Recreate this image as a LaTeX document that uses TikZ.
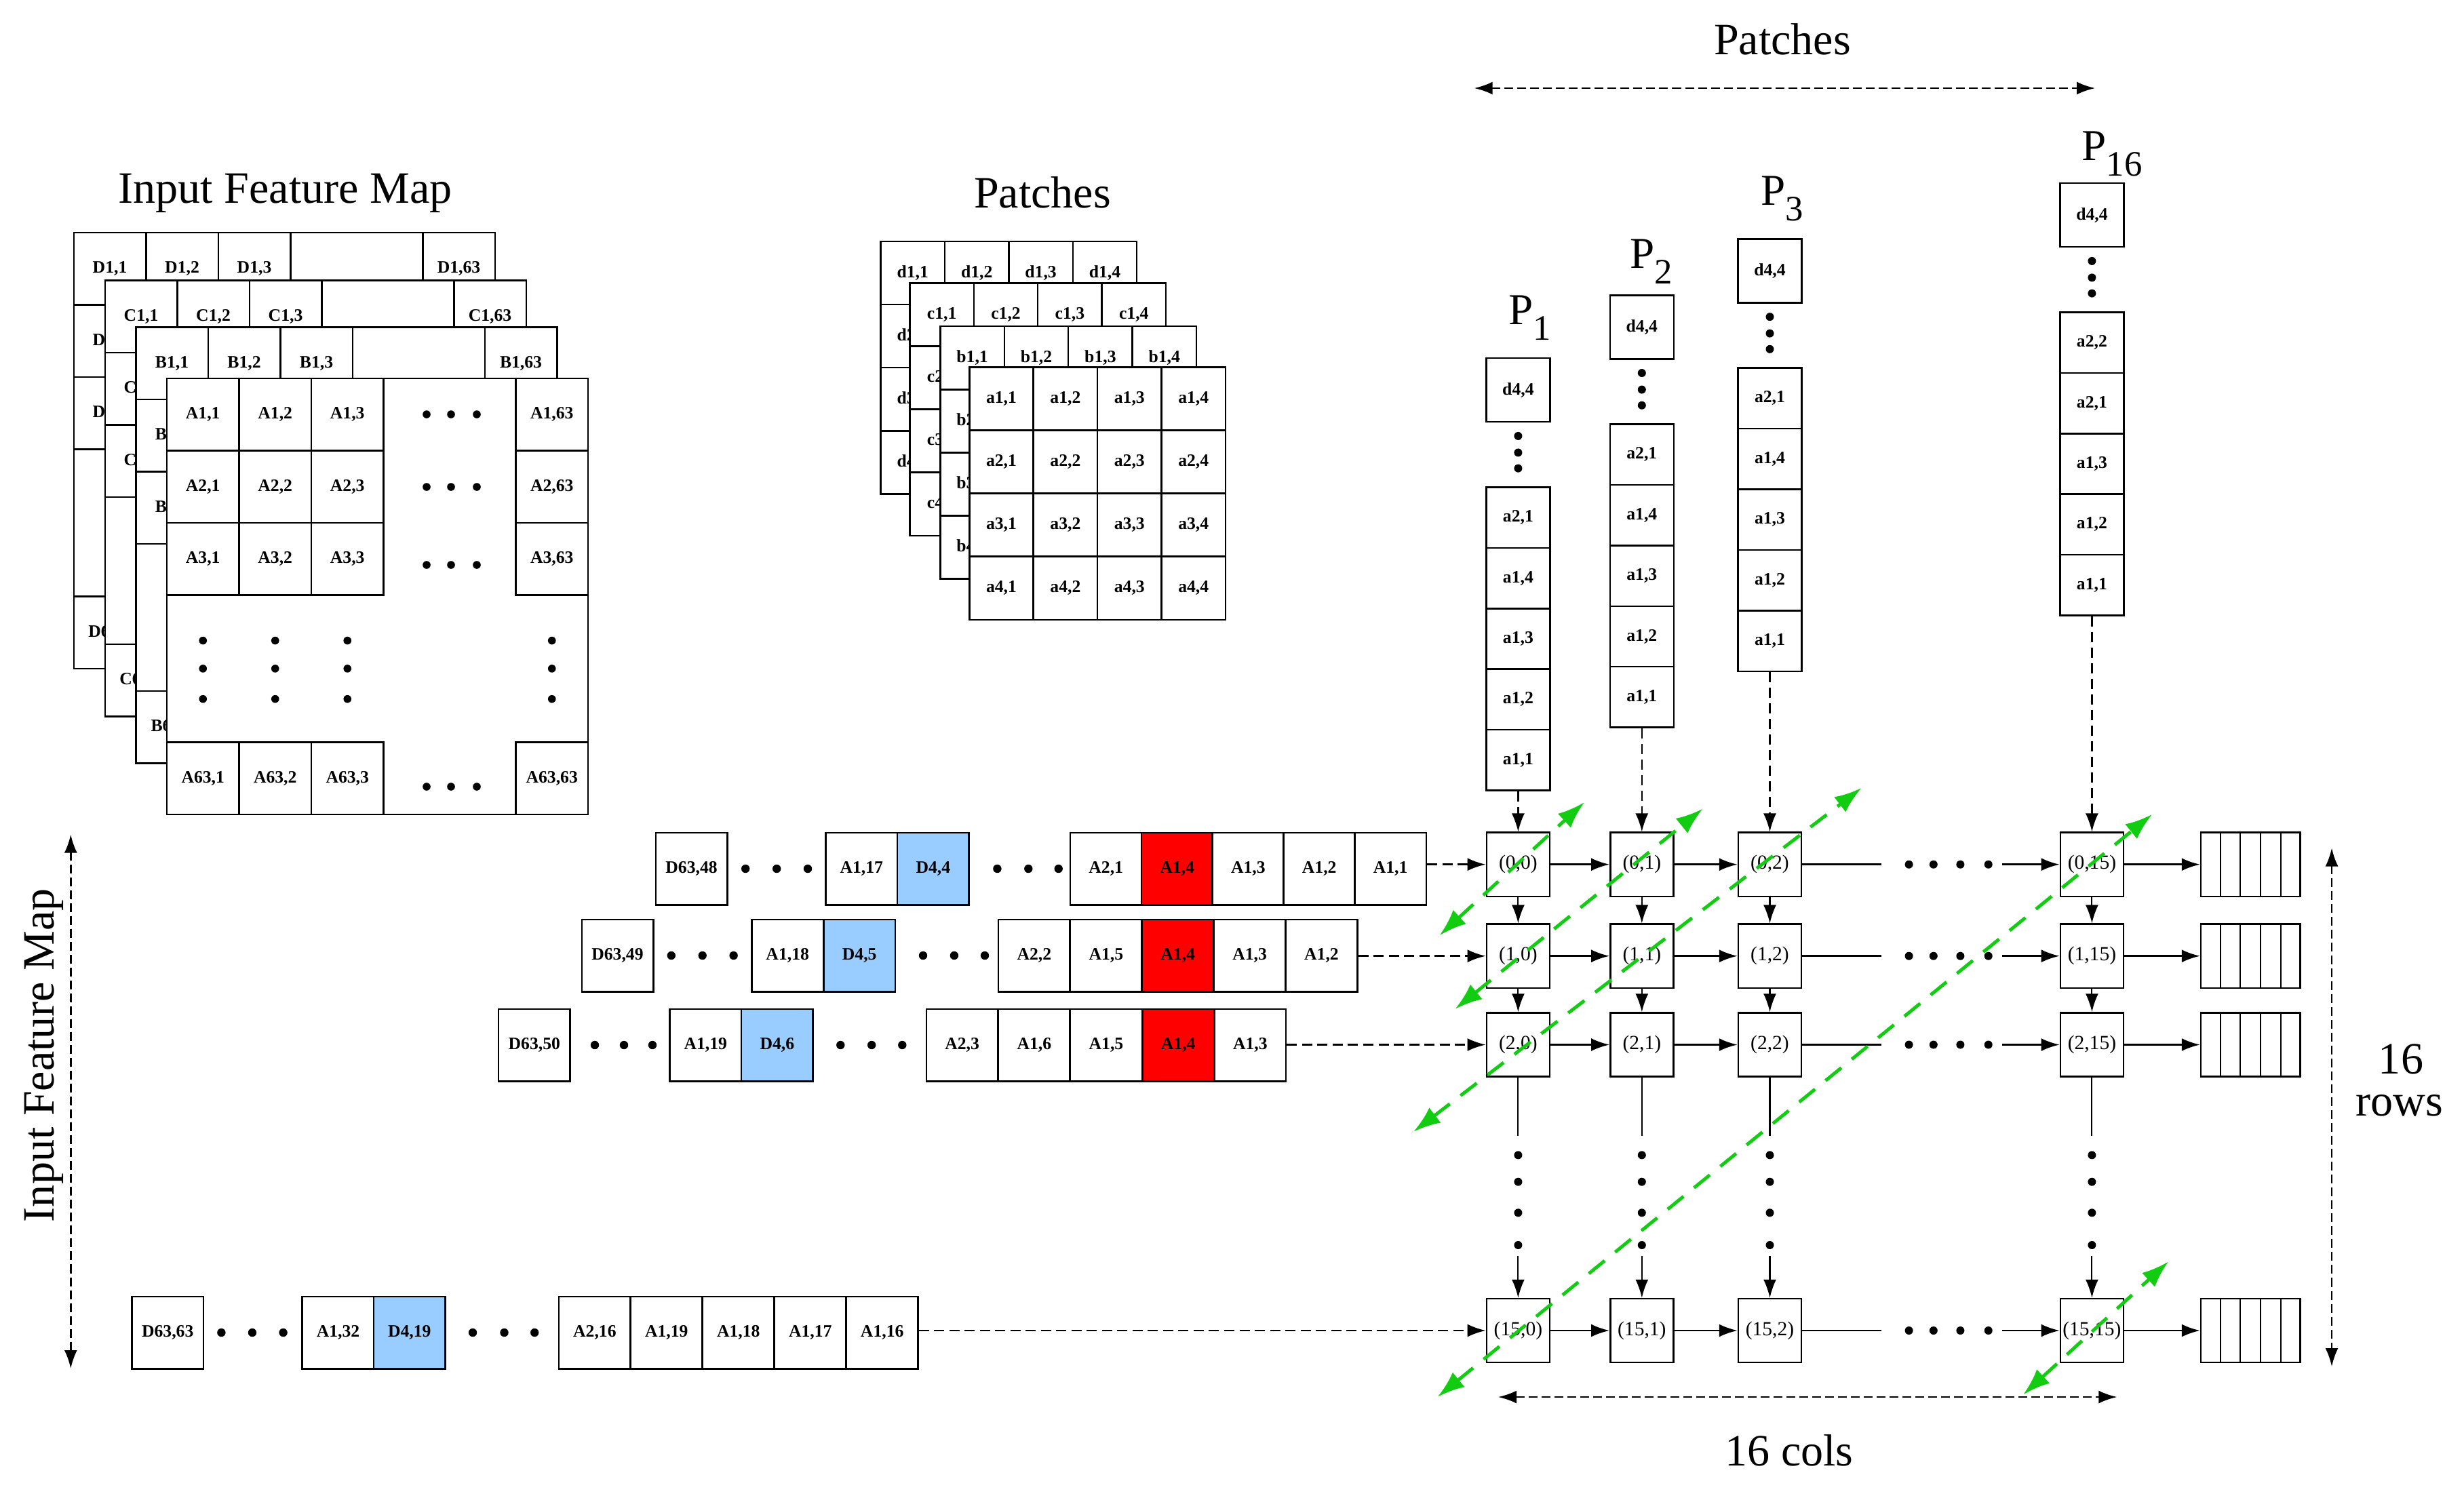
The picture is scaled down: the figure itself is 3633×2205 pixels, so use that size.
\documentclass[tikz,border=0pt]{standalone}
\usepackage{fontspec}
\setmainfont{Liberation Serif}
\usetikzlibrary{arrows.meta,calc}
\definecolor{cellblue}{RGB}{153,204,255}
\definecolor{cellred}{RGB}{255,0,0}
\definecolor{flowgreen}{RGB}{17,204,17}
\tikzset{
  lblfont/.style={font=\fontsize{7.3}{8}\selectfont\bfseries},
  boxbase/.style={draw, fill=white, line width=0.7pt, inner sep=0pt},
  layerbox/.style={draw, fill=white, line width=0.7pt},
  fmcell/.style={boxbase, lblfont, minimum width=1.065cm, minimum height=1.065cm},
  pcell/.style={boxbase, lblfont, minimum width=0.944cm, minimum height=0.931cm},
  scell/.style={boxbase, lblfont, minimum width=0.94cm, minimum height=0.894cm},
  dbox/.style={boxbase, lblfont, minimum width=0.94cm, minimum height=0.94cm},
  rcell/.style={boxbase, lblfont, minimum width=1.055cm, minimum height=1.065cm},
  pebox/.style={boxbase, font=\fontsize{8.4}{9}\selectfont, minimum width=0.93cm, minimum height=0.94cm},
  bufbox/.style={boxbase, minimum width=1.465cm, minimum height=0.94cm},
  titletext/.style={font=\fontsize{18.8}{20}\selectfont, inner sep=0pt},
  plabel/.style={font=\fontsize{18.5}{20}\selectfont, inner sep=0pt, anchor=base west},
  blacktip/.style={-{Latex[length=2.7mm,width=1.9mm]}},
  solidarr/.style={blacktip, line width=0.8pt},
  vsolidarr/.style={blacktip, line width=0.6pt},
  plainline/.style={line width=0.7pt},
  colarr/.style={blacktip, line width=0.65pt, dash pattern=on 1.5mm off 0.8mm},
  rowarr/.style={blacktip, line width=0.8pt, dash pattern=on 1.5mm off 0.75mm},
  dimarr/.style={{Latex[length=2.7mm,width=1.9mm]}-{Latex[length=2.7mm,width=1.9mm]}, line width=0.8pt, dash pattern=on 1.3mm off 0.6mm},
  greenarr/.style={{Latex[length=4mm,width=2.8mm]}-{Latex[length=4mm,width=2.8mm]}, draw=flowgreen, line width=1.4pt, dash pattern=on 3mm off 2mm},
  bigdot/.style={fill=black},
}
% #1 letter, #2 x0, #3 y0, #4 = 1 for the front layer (all labels)
\newcommand\fmlayer[4]{%
  \begin{scope}[shift={(#2,#3)}]
    \draw[layerbox] (0,0) rectangle (621,643);
    \foreach \ri/\ry in {1/53.25,2/159.75,3/266.25,63/589.75}{
      \foreach \ci/\cx in {1/53.25,2/159.75,3/266.25,63/567.75}{
        \pgfmathtruncatemacro\showlbl{(#4==1)||(\ri==1)||(\ci==1)}
        \node[fmcell] (fm#1-\ri-\ci) at (\cx,\ry) {\ifnum\showlbl=1 #1\ri,\ci\fi};
      }
    }
  \end{scope}}
\newcommand\patchlayer[4]{%
  \begin{scope}[shift={(#2,#3)}]
    \foreach \ri in {1,...,4}{
      \foreach \ci in {1,...,4}{
        \pgfmathtruncatemacro\showlbl{(#4==1)||(\ri==1)||(\ci==1)}
        \node[pcell] (pt#1-\ri-\ci) at ({47.2+94.4*(\ci-1)},{46.55+93.1*(\ri-1)}) {\ifnum\showlbl=1 #1\ri,\ci\fi};
      }
    }
  \end{scope}}
\newcommand\pstack[4]{%
  \node[dbox] (#1-d) at (#2,{#3-143.3}) {d4,4};
  \foreach \dy in {75.6,51.1,27.9}{\fill[bigdot] (#2,{#3-\dy}) circle[radius=0.6mm];}
  \foreach \lab [count=\k] in {#4}{
    \node[scell] (#1-\k) at (#2,{#3+44.7+89.4*(\k-1)}) {\lab};
  }}
\begin{document}
\begin{tikzpicture}[x=0.01cm,y=-0.01cm]
\useasboundingbox (0,0) rectangle (3633,2205);

% ---------- Input feature map ----------
\node[titletext, anchor=base] (tfm) at (420.5,299) {Input Feature Map};
\fmlayer{D}{108.8}{343}{0}
\fmlayer{C}{154.8}{413.6}{0}
\fmlayer{B}{200.3}{482.5}{0}
\fmlayer{A}{246}{558}{1}
\begin{scope}[shift={(246,558)}]
  \foreach \dy in {53,160,275,602}{
    \foreach \dx in {383,419,457}{\fill[bigdot] (\dx,\dy) circle[radius=0.58mm];}
  }
  \foreach \dx in {53.25,159.75,266.25,567.75}{
    \foreach \dy in {386.6,427.9,472.7}{\fill[bigdot] (\dx,\dy) circle[radius=0.58mm];}
  }
\end{scope}

% ---------- Patches ----------
\node[titletext, anchor=base] (tpt) at (1537,306) {Patches};
\patchlayer{d}{1298.6}{356}{0}
\patchlayer{c}{1341.4}{417.3}{0}
\patchlayer{b}{1386.4}{481.2}{0}
\patchlayer{a}{1429.3}{541.3}{1}

% ---------- Patch columns ----------
\node[titletext, anchor=base] (tpatches) at (2628,80) {Patches};
\coordinate (pl) at (2173.7,130);
\coordinate (pr) at (3089,130);
\draw[dimarr] (pl) -- (pr);

\pstack{P1}{2238.4}{718.5}{{a2,1},{a1,4},{a1,3},{a1,2},{a1,1}}
\pstack{P2}{2420.8}{625.6}{{a2,1},{a1,4},{a1,3},{a1,2},{a1,1}}
\pstack{P3}{2609.5}{542.7}{{a2,1},{a1,4},{a1,3},{a1,2},{a1,1}}
\pstack{P16}{3084.4}{460.5}{{a2,2},{a2,1},{a1,3},{a1,2},{a1,1}}
\node[plabel] (lp1) at (2223.7,478.4) {P\raisebox{-6.6pt}{\fontsize{15}{15}\selectfont 1}};
\node[plabel] (lp2) at (2402.5,395.5) {P\raisebox{-6.6pt}{\fontsize{15}{15}\selectfont 2}};
\node[plabel] (lp3) at (2595.5,302.6) {P\raisebox{-6.6pt}{\fontsize{15}{15}\selectfont 3}};
\node[plabel] (lp16) at (3069,236.3) {P\raisebox{-6.6pt}{\fontsize{15}{15}\selectfont 16}};

% ---------- PE array ----------
\foreach \ri/\py in {0/1274.7,1/1409.7,2/1540.5,15/1962}{
  \foreach \ci/\px in {0/2238.4,1/2420.8,2/2609.5,15/3084.4}{
    \node[pebox] (pe-\ri-\ci) at (\px,\py) {(\ri,\ci)};
  }
  \node[bufbox] (buf-\ri) at (3318.3,\py) {};
  \foreach \f in {0.2,0.4,0.6,0.8}{
    \draw[line width=0.6pt] ($(buf-\ri.north west)!\f!(buf-\ri.north east)$) -- ($(buf-\ri.south west)!\f!(buf-\ri.south east)$);
  }
  \draw[solidarr] (pe-\ri-0) -- (pe-\ri-1);
  \draw[solidarr] (pe-\ri-1) -- (pe-\ri-2);
  \coordinate (hd-\ri) at (2774,\py);
  \coordinate (ha-\ri) at (2952,\py);
  \draw[plainline] (pe-\ri-2.east) -- (hd-\ri);
  \foreach \dx in {2814.6,2850.8,2890.4,2931.7}{\fill[bigdot] (\dx,\py) circle[radius=0.6mm];}
  \draw[solidarr] (ha-\ri) -- (pe-\ri-15.west);
  \draw[solidarr] (pe-\ri-15) -- (buf-\ri);
}
\foreach \ci/\px/\st in {0/2238.4/P1,1/2420.8/P2,2/2609.5/P3,15/3084.4/P16}{
  \draw[colarr] (\st-5.south) -- (pe-0-\ci.north);
  \draw[vsolidarr] (pe-0-\ci) -- (pe-1-\ci);
  \draw[vsolidarr] (pe-1-\ci) -- (pe-2-\ci);
  \coordinate (vd-\ci) at (\px,1675);
  \coordinate (va-\ci) at (\px,1852);
  \draw[line width=0.6pt] (pe-2-\ci.south) -- (vd-\ci);
  \foreach \dy in {1703.3,1742.7,1788.3,1836}{\fill[bigdot] (\px,\dy) circle[radius=0.6mm];}
  \draw[vsolidarr] (va-\ci) -- (pe-15-\ci.north);
}

% ---------- input rows ----------
% row 0
\node[rcell] (r0-x) at (1019.6,1281) {D63,48};
\node[rcell] (r0-a) at (1270.3,1281) {A1,17};
\node[rcell, fill=cellblue] (r0-b) at (1375.9,1281) {D4,4};
\node[rcell] (r0-1) at (1630.7,1281) {A2,1};
\node[rcell, fill=cellred] (r0-2) at (1735.6,1281) {A1,4};
\node[rcell] (r0-3) at (1840.4,1281) {A1,3};
\node[rcell] (r0-4) at (1945.2,1281) {A1,2};
\node[rcell] (r0-5) at (2050.1,1281) {A1,1};
\foreach \dx in {1099.2,1145.2,1191,1470.4,1516.3,1560.7}{\fill[bigdot] (\dx,1281) circle[radius=0.62mm];}
\draw[rowarr] (r0-5.east |- pe-0-0.west) -- (pe-0-0.west);
% row 1
\node[rcell] (r1-x) at (910.5,1409) {D63,49};
\node[rcell] (r1-a) at (1161.2,1409) {A1,18};
\node[rcell, fill=cellblue] (r1-b) at (1267.2,1409) {D4,5};
\node[rcell] (r1-1) at (1524.9,1409) {A2,2};
\node[rcell] (r1-2) at (1630.8,1409) {A1,5};
\node[rcell, fill=cellred] (r1-3) at (1736.7,1409) {A1,4};
\node[rcell] (r1-4) at (1842.6,1409) {A1,3};
\node[rcell] (r1-5) at (1948.5,1409) {A1,2};
\foreach \dx in {989.8,1035.7,1081.6,1361,1406.9,1452}{\fill[bigdot] (\dx,1409) circle[radius=0.62mm];}
\draw[rowarr] (r1-5.east |- pe-1-0.west) -- (pe-1-0.west);
% row 2
\node[rcell] (r2-x) at (787.8,1541) {D63,50};
\node[rcell] (r2-a) at (1040.3,1541) {A1,19};
\node[rcell, fill=cellblue] (r2-b) at (1145.9,1541) {D4,6};
\node[rcell] (r2-1) at (1418.6,1541) {A2,3};
\node[rcell] (r2-2) at (1524.8,1541) {A1,6};
\node[rcell] (r2-3) at (1631,1541) {A1,5};
\node[rcell, fill=cellred] (r2-4) at (1737.2,1541) {A1,4};
\node[rcell] (r2-5) at (1843.4,1541) {A1,3};
\foreach \dx in {877,920,962,1239.3,1285.2,1330.3}{\fill[bigdot] (\dx,1541) circle[radius=0.62mm];}
\draw[rowarr] (r2-5.east |- pe-2-0.west) -- (pe-2-0.west);
% row 15
\node[rcell] (r15-x) at (247.2,1965) {D63,63};
\node[rcell] (r15-a) at (498.5,1965) {A1,32};
\node[rcell, fill=cellblue] (r15-b) at (603.8,1965) {D4,19};
\node[rcell] (r15-1) at (876.9,1965) {A2,16};
\node[rcell] (r15-2) at (982.8,1965) {A1,19};
\node[rcell] (r15-3) at (1088.8,1965) {A1,18};
\node[rcell] (r15-4) at (1194.8,1965) {A1,17};
\node[rcell] (r15-5) at (1300.7,1965) {A1,16};
\foreach \dx in {326.4,372,417.6,697,743.5,788.2}{\fill[bigdot] (\dx,1965) circle[radius=0.62mm];}
\draw[rowarr] (r15-5.east |- pe-15-0.west) -- (pe-15-0.west);

% ---------- dimension arrows ----------
\coordinate (ifmt) at (104.3,1230.5);
\coordinate (ifmb) at (104.3,2018);
\draw[dimarr] (ifmt) -- (ifmb);
\node[titletext, rotate=90, anchor=base] (tifm) at (79.7,1556) {Input Feature Map};

\coordinate (rowt) at (3438,1250.5);
\coordinate (rowb) at (3438,2015);
\draw[dimarr] (rowt) -- (rowb);
\node[titletext, anchor=base] (t16a) at (3540,1583.5) {16};
\node[titletext, anchor=base] (t16b) at (3537.5,1645) {rows};

\coordinate (coll) at (2209,2060);
\coordinate (colr) at (3121.4,2060);
\draw[dimarr] (coll) -- (colr);
\node[titletext, anchor=base] (t16c) at (2638,2161.7) {16 cols};

% ---------- green diagonals ----------
\coordinate (g1a) at (2122.5,1379.3); \coordinate (g1b) at (2336,1183);
\coordinate (g2a) at (2145.5,1487.8); \coordinate (g2b) at (2510.7,1192.5);
\coordinate (g3a) at (2084,1668.9);   \coordinate (g3b) at (2744.6,1161.9);
\coordinate (g4a) at (2119.6,2059.8); \coordinate (g4b) at (3173.2,1200.8);
\coordinate (g5a) at (2983,2056.6);   \coordinate (g5b) at (3197.3,1860.2);
\foreach \g in {1,...,5}{\draw[greenarr] (g\g a) -- (g\g b);}
\end{tikzpicture}
\end{document}
